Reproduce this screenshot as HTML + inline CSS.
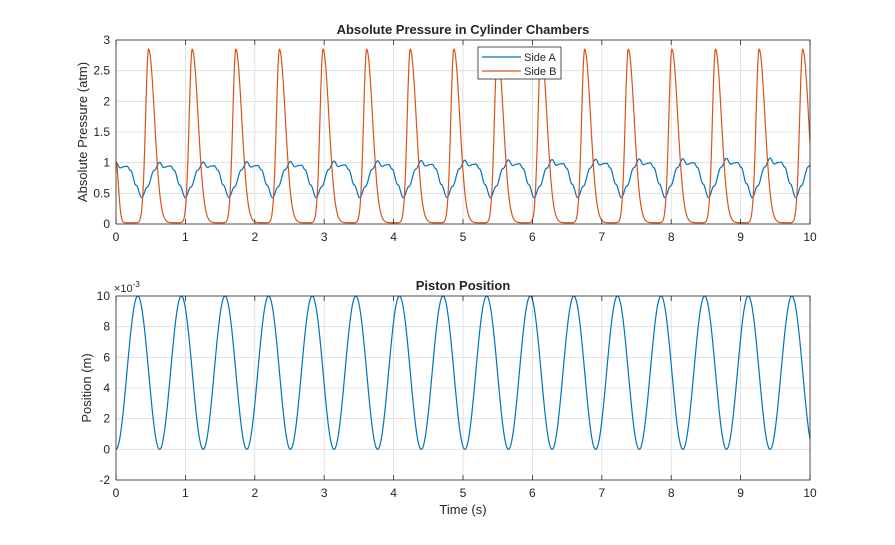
<!DOCTYPE html>
<html><head><meta charset="utf-8"><style>
body{margin:0;background:#fff}
svg text{font-family:"Liberation Sans",Arial,sans-serif;fill:#262626}
</style></head><body>
<svg id="s" width="895" height="540" viewBox="0 0 895 540" xmlns="http://www.w3.org/2000/svg">
<rect width="895" height="540" fill="#fff"/>
<g id="g1"></g>
<text x="463" y="34" font-size="13" font-weight="bold" text-anchor="middle">Absolute Pressure in Cylinder Chambers</text>
<text x="463" y="290" font-size="13" font-weight="bold" text-anchor="middle">Piston Position</text>
<text x="463" y="514" font-size="13" text-anchor="middle">Time (s)</text>
<text transform="translate(87,132) rotate(-90)" font-size="13" text-anchor="middle">Absolute Pressure (atm)</text>
<text transform="translate(91,388) rotate(-90)" font-size="13" text-anchor="middle">Position (m)</text>
<text x="114" y="292" font-size="11">×10<tspan dy="-5" font-size="8">-3</tspan></text>
<g>
<rect x="478" y="47" width="83" height="32" fill="#fff" stroke="#262626" stroke-width="0.8"/>
<line x1="482" y1="57" x2="521" y2="57" stroke="#0072BD" stroke-width="1.2"/>
<line x1="482" y1="71" x2="521" y2="71" stroke="#D95319" stroke-width="1.2"/>
<text x="524" y="61" font-size="11">Side A</text>
<text x="524" y="75" font-size="11">Side B</text>
</g>
</svg>
<script>
var NS="http://www.w3.org/2000/svg",g=document.getElementById('g1');
function el(n,a,p){var e=document.createElementNS(NS,n);for(var k in a)e.setAttribute(k,a[k]);(p||g).appendChild(e);return e;}
var L=116,R=810,W=R-L;
function axes(T,B,ymin,ymax,ystep,labels){
  el('rect',{x:L,y:T,width:W,height:B-T,fill:'#fff'});
  for(var i=0;i<=10;i++){var x=L+W*i/10;el('line',{x1:x,y1:T,x2:x,y2:B,stroke:'#dcdcdc','stroke-width':0.8});
    var t=el('text',{x:x,y:B+17,'font-size':12,'text-anchor':'middle'});t.textContent=i;}
  for(var j=0;j<labels.length;j++){var v=ymin+j*ystep,y=B-(v-ymin)/(ymax-ymin)*(B-T);
    el('line',{x1:L,y1:y,x2:R,y2:y,stroke:'#dcdcdc','stroke-width':0.8});
    var t=el('text',{x:L-6,y:y+4,'font-size':12,'text-anchor':'end'});t.textContent=labels[j];}
}
function frame(T,B){el('rect',{x:L,y:T,width:W,height:B-T,fill:'none',stroke:'#262626','stroke-width':0.8});
  for(var i=0;i<=10;i++){var x=L+W*i/10;el('line',{x1:x,y1:T,x2:x,y2:T+5,stroke:'#262626','stroke-width':0.8});el('line',{x1:x,y1:B,x2:x,y2:B-5,stroke:'#262626','stroke-width':0.8});}}
axes(40,224,0,3,0.5,['0','0.5','1','1.5','2','2.5','3']);
axes(296,480,-2,10,2,['-2','0','2','4','6','8','10']);
var P=2*Math.PI/10;
var cp=[[0,1],[0.06,0.915],[0.12,0.935],[0.16,0.94],[0.21,0.87],[0.29,0.63],[0.37,0.43],[0.45,0.6],[0.55,0.87],[P,1]];
function A(t){var f=t%P;for(var i=0;i<cp.length-1;i++){if(f>=cp[i][0]&&f<=cp[i+1][0]){var u=(f-cp[i][0])/(cp[i+1][0]-cp[i][0]);u=(1-Math.cos(Math.PI*u))/2;var v=cp[i][1]+(cp[i+1][1]-cp[i][1])*u;var top=1+0.08*t/10;return 0.43+(v-0.43)*(top-0.43)/0.57;}}return 1;}
function Bv(t){var s=0.02;for(var k=0;k<18;k++){var c=0.47+k*P,d=t-c,sg=d<0?0.062:0.12;s+=2.83*Math.exp(-(d/sg)*(d/sg));}
  s+=1*Math.exp(-Math.pow(t/0.05,2));return Math.min(s,2.87);}
function path(f,T,B,ymin,ymax,col){var d='';for(var i=0;i<=3000;i++){var t=10*i/3000,x=L+W*t/10,y=B-(f(t)-ymin)/(ymax-ymin)*(B-T);d+=(i?'L':'M')+x.toFixed(2)+' '+y.toFixed(2);}
  el('path',{d:d,fill:'none',stroke:col,'stroke-width':1.2});}
path(A,40,224,0,3,'#0072BD');
path(Bv,40,224,0,3,'#D95319');
path(function(t){return 5*(1-Math.cos(10*t));},296,480,-2,10,'#0072BD');
frame(40,224);frame(296,480);
</script>
</body></html>
